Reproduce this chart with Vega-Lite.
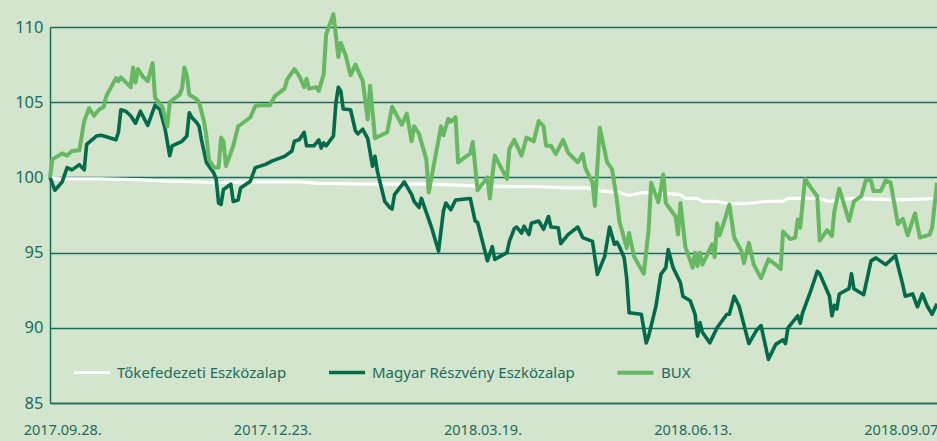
{
  "$schema": "https://vega.github.io/schema/vega-lite/v6.json",
  "width": 887,
  "height": 376,
  "autosize": "none",
  "padding": {"left": 50, "top": 27, "right": 0, "bottom": 38},
  "background": "#d3e5cc",
  "config": {
    "view": {"stroke": null, "fill": "#d3e5cc"},
    "font": "Noto Sans",
    "axis": {"labelColor": "#1d6b5b", "labelFont": "Noto Sans", "domainColor": "#1d6b5b", "gridColor": "#1d6b5b", "ticks": false, "title": null, "domainWidth": 1.5, "gridWidth": 1.5}
  },
  "data": {"values": [
    {"series":"Tőkefedezeti Eszközalap","date":"2017-09-23","value":100.0},
    {"series":"Tőkefedezeti Eszközalap","date":"2017-09-27","value":99.9},
    {"series":"Tőkefedezeti Eszközalap","date":"2017-10-13","value":99.9},
    {"series":"Tőkefedezeti Eszközalap","date":"2017-10-27","value":99.85},
    {"series":"Tőkefedezeti Eszközalap","date":"2017-11-10","value":99.75},
    {"series":"Tőkefedezeti Eszközalap","date":"2017-11-23","value":99.7},
    {"series":"Tőkefedezeti Eszközalap","date":"2017-11-30","value":99.65},
    {"series":"Tőkefedezeti Eszközalap","date":"2017-12-14","value":99.7},
    {"series":"Tőkefedezeti Eszközalap","date":"2018-01-03","value":99.7},
    {"series":"Tőkefedezeti Eszközalap","date":"2018-01-11","value":99.6},
    {"series":"Tőkefedezeti Eszközalap","date":"2018-01-31","value":99.55},
    {"series":"Tőkefedezeti Eszközalap","date":"2018-02-13","value":99.55},
    {"series":"Tőkefedezeti Eszközalap","date":"2018-02-27","value":99.55},
    {"series":"Tőkefedezeti Eszközalap","date":"2018-03-13","value":99.45},
    {"series":"Tőkefedezeti Eszközalap","date":"2018-03-26","value":99.4},
    {"series":"Tőkefedezeti Eszközalap","date":"2018-04-12","value":99.38},
    {"series":"Tőkefedezeti Eszközalap","date":"2018-04-22","value":99.3},
    {"series":"Tőkefedezeti Eszközalap","date":"2018-05-01","value":99.3},
    {"series":"Tőkefedezeti Eszközalap","date":"2018-05-03","value":99.25},
    {"series":"Tőkefedezeti Eszközalap","date":"2018-05-06","value":99.1},
    {"series":"Tőkefedezeti Eszközalap","date":"2018-05-14","value":99.0},
    {"series":"Tőkefedezeti Eszközalap","date":"2018-05-18","value":98.8},
    {"series":"Tőkefedezeti Eszközalap","date":"2018-05-22","value":98.95},
    {"series":"Tőkefedezeti Eszközalap","date":"2018-05-27","value":99.0},
    {"series":"Tőkefedezeti Eszközalap","date":"2018-06-01","value":98.95},
    {"series":"Tőkefedezeti Eszközalap","date":"2018-06-08","value":98.85},
    {"series":"Tőkefedezeti Eszközalap","date":"2018-06-10","value":98.6},
    {"series":"Tőkefedezeti Eszközalap","date":"2018-06-15","value":98.6},
    {"series":"Tőkefedezeti Eszközalap","date":"2018-06-17","value":98.4},
    {"series":"Tőkefedezeti Eszközalap","date":"2018-06-23","value":98.4},
    {"series":"Tőkefedezeti Eszközalap","date":"2018-06-28","value":98.25},
    {"series":"Tőkefedezeti Eszközalap","date":"2018-07-05","value":98.25},
    {"series":"Tőkefedezeti Eszközalap","date":"2018-07-13","value":98.4},
    {"series":"Tőkefedezeti Eszközalap","date":"2018-07-20","value":98.4},
    {"series":"Tőkefedezeti Eszközalap","date":"2018-07-22","value":98.6},
    {"series":"Tőkefedezeti Eszközalap","date":"2018-08-04","value":98.6},
    {"series":"Tőkefedezeti Eszközalap","date":"2018-08-08","value":98.4},
    {"series":"Tőkefedezeti Eszközalap","date":"2018-08-11","value":98.5},
    {"series":"Tőkefedezeti Eszközalap","date":"2018-08-18","value":98.6},
    {"series":"Tőkefedezeti Eszközalap","date":"2018-09-06","value":98.5},
    {"series":"Tőkefedezeti Eszközalap","date":"2018-09-21","value":98.6},

    {"series":"Magyar Részvény Eszközalap","date":"2017-09-23","value":100.0},
    {"series":"Magyar Részvény Eszközalap","date":"2017-09-25","value":99.15},
    {"series":"Magyar Részvény Eszközalap","date":"2017-09-28","value":99.7},
    {"series":"Magyar Részvény Eszközalap","date":"2017-09-30","value":100.65},
    {"series":"Magyar Részvény Eszközalap","date":"2017-10-02","value":100.5},
    {"series":"Magyar Részvény Eszközalap","date":"2017-10-05","value":100.85},
    {"series":"Magyar Részvény Eszközalap","date":"2017-10-07","value":100.5},
    {"series":"Magyar Részvény Eszközalap","date":"2017-10-08","value":102.2},
    {"series":"Magyar Részvény Eszközalap","date":"2017-10-12","value":102.75},
    {"series":"Magyar Részvény Eszközalap","date":"2017-10-14","value":102.8},
    {"series":"Magyar Részvény Eszközalap","date":"2017-10-20","value":102.5},
    {"series":"Magyar Részvény Eszközalap","date":"2017-10-21","value":103.0},
    {"series":"Magyar Részvény Eszközalap","date":"2017-10-22","value":104.5},
    {"series":"Magyar Részvény Eszközalap","date":"2017-10-24","value":104.4},
    {"series":"Magyar Részvény Eszközalap","date":"2017-10-26","value":104.1},
    {"series":"Magyar Részvény Eszközalap","date":"2017-10-28","value":103.6},
    {"series":"Magyar Részvény Eszközalap","date":"2017-10-30","value":104.4},
    {"series":"Magyar Részvény Eszközalap","date":"2017-11-02","value":103.45},
    {"series":"Magyar Részvény Eszközalap","date":"2017-11-05","value":104.8},
    {"series":"Magyar Részvény Eszközalap","date":"2017-11-07","value":104.5},
    {"series":"Magyar Részvény Eszközalap","date":"2017-11-09","value":103.3},
    {"series":"Magyar Részvény Eszközalap","date":"2017-11-11","value":101.45},
    {"series":"Magyar Részvény Eszközalap","date":"2017-11-12","value":102.1},
    {"series":"Magyar Részvény Eszközalap","date":"2017-11-16","value":102.4},
    {"series":"Magyar Részvény Eszközalap","date":"2017-11-18","value":102.75},
    {"series":"Magyar Részvény Eszközalap","date":"2017-11-19","value":104.3},
    {"series":"Magyar Részvény Eszközalap","date":"2017-11-20","value":104.0},
    {"series":"Magyar Részvény Eszközalap","date":"2017-11-22","value":103.65},
    {"series":"Magyar Részvény Eszközalap","date":"2017-11-23","value":103.4},
    {"series":"Magyar Részvény Eszközalap","date":"2017-11-24","value":102.5},
    {"series":"Magyar Részvény Eszközalap","date":"2017-11-26","value":101.0},
    {"series":"Magyar Részvény Eszközalap","date":"2017-11-29","value":100.3},
    {"series":"Magyar Részvény Eszközalap","date":"2017-11-30","value":99.9},
    {"series":"Magyar Részvény Eszközalap","date":"2017-12-01","value":98.3},
    {"series":"Magyar Részvény Eszközalap","date":"2017-12-02","value":98.2},
    {"series":"Magyar Részvény Eszközalap","date":"2017-12-03","value":99.2},
    {"series":"Magyar Részvény Eszközalap","date":"2017-12-06","value":99.55},
    {"series":"Magyar Részvény Eszközalap","date":"2017-12-07","value":98.4},
    {"series":"Magyar Részvény Eszközalap","date":"2017-12-09","value":98.5},
    {"series":"Magyar Részvény Eszközalap","date":"2017-12-10","value":99.3},
    {"series":"Magyar Részvény Eszközalap","date":"2017-12-14","value":99.75},
    {"series":"Magyar Részvény Eszközalap","date":"2017-12-16","value":100.65},
    {"series":"Magyar Részvény Eszközalap","date":"2017-12-20","value":100.85},
    {"series":"Magyar Részvény Eszközalap","date":"2017-12-23","value":101.1},
    {"series":"Magyar Részvény Eszközalap","date":"2017-12-28","value":101.4},
    {"series":"Magyar Részvény Eszközalap","date":"2017-12-31","value":101.75},
    {"series":"Magyar Részvény Eszközalap","date":"2018-01-01","value":102.4},
    {"series":"Magyar Részvény Eszközalap","date":"2018-01-03","value":102.5},
    {"series":"Magyar Részvény Eszközalap","date":"2018-01-05","value":103.0},
    {"series":"Magyar Részvény Eszközalap","date":"2018-01-06","value":102.1},
    {"series":"Magyar Részvény Eszközalap","date":"2018-01-09","value":102.1},
    {"series":"Magyar Részvény Eszközalap","date":"2018-01-11","value":102.5},
    {"series":"Magyar Részvény Eszközalap","date":"2018-01-12","value":101.95},
    {"series":"Magyar Részvény Eszközalap","date":"2018-01-13","value":102.3},
    {"series":"Magyar Részvény Eszközalap","date":"2018-01-14","value":102.1},
    {"series":"Magyar Részvény Eszközalap","date":"2018-01-17","value":102.75},
    {"series":"Magyar Részvény Eszközalap","date":"2018-01-18","value":104.95},
    {"series":"Magyar Részvény Eszközalap","date":"2018-01-19","value":106.0},
    {"series":"Magyar Részvény Eszközalap","date":"2018-01-20","value":105.75},
    {"series":"Magyar Részvény Eszközalap","date":"2018-01-21","value":104.55},
    {"series":"Magyar Részvény Eszközalap","date":"2018-01-24","value":104.5},
    {"series":"Magyar Részvény Eszközalap","date":"2018-01-26","value":103.1},
    {"series":"Magyar Részvény Eszközalap","date":"2018-01-27","value":102.9},
    {"series":"Magyar Részvény Eszközalap","date":"2018-01-29","value":103.2},
    {"series":"Magyar Részvény Eszközalap","date":"2018-01-31","value":102.6},
    {"series":"Magyar Részvény Eszközalap","date":"2018-02-02","value":100.75},
    {"series":"Magyar Részvény Eszközalap","date":"2018-02-03","value":101.4},
    {"series":"Magyar Részvény Eszközalap","date":"2018-02-04","value":100.4},
    {"series":"Magyar Részvény Eszközalap","date":"2018-02-07","value":98.4},
    {"series":"Magyar Részvény Eszközalap","date":"2018-02-09","value":98.0},
    {"series":"Magyar Részvény Eszközalap","date":"2018-02-10","value":97.9},
    {"series":"Magyar Részvény Eszközalap","date":"2018-02-11","value":98.85},
    {"series":"Magyar Részvény Eszközalap","date":"2018-02-15","value":99.7},
    {"series":"Magyar Részvény Eszközalap","date":"2018-02-18","value":98.85},
    {"series":"Magyar Részvény Eszközalap","date":"2018-02-19","value":98.4},
    {"series":"Magyar Részvény Eszközalap","date":"2018-02-21","value":98.0},
    {"series":"Magyar Részvény Eszközalap","date":"2018-02-22","value":98.6},
    {"series":"Magyar Részvény Eszközalap","date":"2018-02-26","value":96.75},
    {"series":"Magyar Részvény Eszközalap","date":"2018-03-01","value":95.1},
    {"series":"Magyar Részvény Eszközalap","date":"2018-03-03","value":97.75},
    {"series":"Magyar Részvény Eszközalap","date":"2018-03-04","value":98.3},
    {"series":"Magyar Részvény Eszközalap","date":"2018-03-06","value":97.85},
    {"series":"Magyar Részvény Eszközalap","date":"2018-03-08","value":98.5},
    {"series":"Magyar Részvény Eszközalap","date":"2018-03-14","value":98.6},
    {"series":"Magyar Részvény Eszközalap","date":"2018-03-16","value":97.1},
    {"series":"Magyar Részvény Eszközalap","date":"2018-03-17","value":97.0},
    {"series":"Magyar Részvény Eszközalap","date":"2018-03-21","value":94.45},
    {"series":"Magyar Részvény Eszközalap","date":"2018-03-23","value":95.4},
    {"series":"Magyar Részvény Eszközalap","date":"2018-03-24","value":94.55},
    {"series":"Magyar Részvény Eszközalap","date":"2018-03-29","value":95.0},
    {"series":"Magyar Részvény Eszközalap","date":"2018-03-30","value":95.75},
    {"series":"Magyar Részvény Eszközalap","date":"2018-04-01","value":96.6},
    {"series":"Magyar Részvény Eszközalap","date":"2018-04-02","value":96.7},
    {"series":"Magyar Részvény Eszközalap","date":"2018-04-04","value":96.3},
    {"series":"Magyar Részvény Eszközalap","date":"2018-04-05","value":96.75},
    {"series":"Magyar Részvény Eszközalap","date":"2018-04-07","value":96.2},
    {"series":"Magyar Részvény Eszközalap","date":"2018-04-08","value":96.95},
    {"series":"Magyar Részvény Eszközalap","date":"2018-04-11","value":97.1},
    {"series":"Magyar Részvény Eszközalap","date":"2018-04-13","value":96.55},
    {"series":"Magyar Részvény Eszközalap","date":"2018-04-15","value":97.4},
    {"series":"Magyar Részvény Eszközalap","date":"2018-04-16","value":96.7},
    {"series":"Magyar Részvény Eszközalap","date":"2018-04-19","value":96.65},
    {"series":"Magyar Részvény Eszközalap","date":"2018-04-20","value":95.6},
    {"series":"Magyar Részvény Eszközalap","date":"2018-04-23","value":96.2},
    {"series":"Magyar Részvény Eszközalap","date":"2018-04-27","value":96.7},
    {"series":"Magyar Részvény Eszközalap","date":"2018-04-29","value":96.0},
    {"series":"Magyar Részvény Eszközalap","date":"2018-05-03","value":95.75},
    {"series":"Magyar Részvény Eszközalap","date":"2018-05-05","value":93.55},
    {"series":"Magyar Részvény Eszközalap","date":"2018-05-08","value":94.75},
    {"series":"Magyar Részvény Eszközalap","date":"2018-05-10","value":96.7},
    {"series":"Magyar Részvény Eszközalap","date":"2018-05-12","value":95.55},
    {"series":"Magyar Részvény Eszközalap","date":"2018-05-13","value":95.7},
    {"series":"Magyar Részvény Eszközalap","date":"2018-05-14","value":95.4},
    {"series":"Magyar Részvény Eszközalap","date":"2018-05-16","value":94.65},
    {"series":"Magyar Részvény Eszközalap","date":"2018-05-17","value":93.3},
    {"series":"Magyar Részvény Eszközalap","date":"2018-05-18","value":91.0},
    {"series":"Magyar Részvény Eszközalap","date":"2018-05-23","value":90.9},
    {"series":"Magyar Részvény Eszközalap","date":"2018-05-25","value":89.0},
    {"series":"Magyar Részvény Eszközalap","date":"2018-05-26","value":89.45},
    {"series":"Magyar Részvény Eszközalap","date":"2018-05-29","value":91.45},
    {"series":"Magyar Részvény Eszközalap","date":"2018-05-31","value":93.55},
    {"series":"Magyar Részvény Eszközalap","date":"2018-06-02","value":94.0},
    {"series":"Magyar Részvény Eszközalap","date":"2018-06-03","value":95.2},
    {"series":"Magyar Részvény Eszközalap","date":"2018-06-05","value":94.0},
    {"series":"Magyar Részvény Eszközalap","date":"2018-06-08","value":93.0},
    {"series":"Magyar Részvény Eszközalap","date":"2018-06-09","value":92.1},
    {"series":"Magyar Részvény Eszközalap","date":"2018-06-12","value":91.8},
    {"series":"Magyar Részvény Eszközalap","date":"2018-06-14","value":90.9},
    {"series":"Magyar Részvény Eszközalap","date":"2018-06-15","value":89.45},
    {"series":"Magyar Részvény Eszközalap","date":"2018-06-16","value":90.35},
    {"series":"Magyar Részvény Eszközalap","date":"2018-06-17","value":89.7},
    {"series":"Magyar Részvény Eszközalap","date":"2018-06-20","value":89.0},
    {"series":"Magyar Részvény Eszközalap","date":"2018-06-23","value":90.0},
    {"series":"Magyar Részvény Eszközalap","date":"2018-06-27","value":90.9},
    {"series":"Magyar Részvény Eszközalap","date":"2018-06-28","value":90.9},
    {"series":"Magyar Részvény Eszközalap","date":"2018-06-30","value":92.1},
    {"series":"Magyar Részvény Eszközalap","date":"2018-07-02","value":91.45},
    {"series":"Magyar Részvény Eszközalap","date":"2018-07-06","value":88.95},
    {"series":"Magyar Részvény Eszközalap","date":"2018-07-09","value":89.8},
    {"series":"Magyar Részvény Eszközalap","date":"2018-07-11","value":90.15},
    {"series":"Magyar Részvény Eszközalap","date":"2018-07-14","value":87.9},
    {"series":"Magyar Részvény Eszközalap","date":"2018-07-17","value":88.9},
    {"series":"Magyar Részvény Eszközalap","date":"2018-07-20","value":89.2},
    {"series":"Magyar Részvény Eszközalap","date":"2018-07-21","value":88.95},
    {"series":"Magyar Részvény Eszközalap","date":"2018-07-22","value":90.0},
    {"series":"Magyar Részvény Eszközalap","date":"2018-07-26","value":90.8},
    {"series":"Magyar Részvény Eszközalap","date":"2018-07-27","value":90.3},
    {"series":"Magyar Részvény Eszközalap","date":"2018-07-28","value":91.0},
    {"series":"Magyar Részvény Eszközalap","date":"2018-07-31","value":92.3},
    {"series":"Magyar Részvény Eszközalap","date":"2018-08-03","value":93.75},
    {"series":"Magyar Részvény Eszközalap","date":"2018-08-04","value":93.6},
    {"series":"Magyar Részvény Eszközalap","date":"2018-08-08","value":92.1},
    {"series":"Magyar Részvény Eszközalap","date":"2018-08-09","value":90.8},
    {"series":"Magyar Részvény Eszközalap","date":"2018-08-10","value":91.5},
    {"series":"Magyar Részvény Eszközalap","date":"2018-08-11","value":91.25},
    {"series":"Magyar Részvény Eszközalap","date":"2018-08-12","value":92.25},
    {"series":"Magyar Részvény Eszközalap","date":"2018-08-16","value":92.6},
    {"series":"Magyar Részvény Eszközalap","date":"2018-08-17","value":93.6},
    {"series":"Magyar Részvény Eszközalap","date":"2018-08-18","value":92.6},
    {"series":"Magyar Részvény Eszközalap","date":"2018-08-22","value":92.2},
    {"series":"Magyar Részvény Eszközalap","date":"2018-08-25","value":94.45},
    {"series":"Magyar Részvény Eszközalap","date":"2018-08-27","value":94.65},
    {"series":"Magyar Részvény Eszközalap","date":"2018-08-31","value":94.2},
    {"series":"Magyar Részvény Eszközalap","date":"2018-09-04","value":94.8},
    {"series":"Magyar Részvény Eszközalap","date":"2018-09-07","value":92.85},
    {"series":"Magyar Részvény Eszközalap","date":"2018-09-08","value":92.1},
    {"series":"Magyar Részvény Eszközalap","date":"2018-09-11","value":92.25},
    {"series":"Magyar Részvény Eszközalap","date":"2018-09-13","value":91.4},
    {"series":"Magyar Részvény Eszközalap","date":"2018-09-15","value":92.25},
    {"series":"Magyar Részvény Eszközalap","date":"2018-09-17","value":91.45},
    {"series":"Magyar Részvény Eszközalap","date":"2018-09-19","value":90.9},
    {"series":"Magyar Részvény Eszközalap","date":"2018-09-21","value":91.6},

    {"series":"BUX","date":"2017-09-23","value":100.0},
    {"series":"BUX","date":"2017-09-24","value":101.2},
    {"series":"BUX","date":"2017-09-28","value":101.6},
    {"series":"BUX","date":"2017-09-30","value":101.45},
    {"series":"BUX","date":"2017-10-02","value":101.75},
    {"series":"BUX","date":"2017-10-05","value":101.8},
    {"series":"BUX","date":"2017-10-07","value":103.75},
    {"series":"BUX","date":"2017-10-09","value":104.6},
    {"series":"BUX","date":"2017-10-11","value":104.1},
    {"series":"BUX","date":"2017-10-13","value":104.5},
    {"series":"BUX","date":"2017-10-15","value":104.7},
    {"series":"BUX","date":"2017-10-16","value":105.4},
    {"series":"BUX","date":"2017-10-20","value":106.6},
    {"series":"BUX","date":"2017-10-21","value":106.4},
    {"series":"BUX","date":"2017-10-22","value":106.65},
    {"series":"BUX","date":"2017-10-26","value":106.0},
    {"series":"BUX","date":"2017-10-27","value":107.3},
    {"series":"BUX","date":"2017-10-28","value":106.3},
    {"series":"BUX","date":"2017-10-29","value":107.2},
    {"series":"BUX","date":"2017-10-31","value":106.7},
    {"series":"BUX","date":"2017-11-02","value":106.4},
    {"series":"BUX","date":"2017-11-04","value":107.6},
    {"series":"BUX","date":"2017-11-05","value":105.3},
    {"series":"BUX","date":"2017-11-07","value":104.9},
    {"series":"BUX","date":"2017-11-08","value":104.7},
    {"series":"BUX","date":"2017-11-10","value":103.4},
    {"series":"BUX","date":"2017-11-11","value":105.0},
    {"series":"BUX","date":"2017-11-15","value":105.5},
    {"series":"BUX","date":"2017-11-16","value":105.9},
    {"series":"BUX","date":"2017-11-17","value":107.3},
    {"series":"BUX","date":"2017-11-18","value":106.8},
    {"series":"BUX","date":"2017-11-19","value":105.5},
    {"series":"BUX","date":"2017-11-22","value":105.2},
    {"series":"BUX","date":"2017-11-23","value":105.0},
    {"series":"BUX","date":"2017-11-25","value":103.75},
    {"series":"BUX","date":"2017-11-26","value":102.75},
    {"series":"BUX","date":"2017-11-27","value":101.2},
    {"series":"BUX","date":"2017-11-29","value":100.65},
    {"series":"BUX","date":"2017-12-01","value":100.65},
    {"series":"BUX","date":"2017-12-02","value":102.65},
    {"series":"BUX","date":"2017-12-03","value":102.4},
    {"series":"BUX","date":"2017-12-04","value":100.75},
    {"series":"BUX","date":"2017-12-07","value":102.1},
    {"series":"BUX","date":"2017-12-09","value":103.4},
    {"series":"BUX","date":"2017-12-12","value":103.75},
    {"series":"BUX","date":"2017-12-14","value":104.0},
    {"series":"BUX","date":"2017-12-16","value":104.75},
    {"series":"BUX","date":"2017-12-18","value":104.8},
    {"series":"BUX","date":"2017-12-22","value":104.8},
    {"series":"BUX","date":"2017-12-24","value":105.4},
    {"series":"BUX","date":"2017-12-28","value":105.9},
    {"series":"BUX","date":"2017-12-29","value":106.5},
    {"series":"BUX","date":"2018-01-01","value":107.2},
    {"series":"BUX","date":"2018-01-03","value":106.75},
    {"series":"BUX","date":"2018-01-05","value":106.0},
    {"series":"BUX","date":"2018-01-06","value":106.55},
    {"series":"BUX","date":"2018-01-07","value":105.9},
    {"series":"BUX","date":"2018-01-10","value":106.0},
    {"series":"BUX","date":"2018-01-11","value":105.75},
    {"series":"BUX","date":"2018-01-13","value":106.85},
    {"series":"BUX","date":"2018-01-14","value":109.5},
    {"series":"BUX","date":"2018-01-17","value":110.85},
    {"series":"BUX","date":"2018-01-19","value":108.0},
    {"series":"BUX","date":"2018-01-20","value":108.95},
    {"series":"BUX","date":"2018-01-22","value":108.1},
    {"series":"BUX","date":"2018-01-24","value":106.8},
    {"series":"BUX","date":"2018-01-26","value":107.5},
    {"series":"BUX","date":"2018-01-29","value":106.4},
    {"series":"BUX","date":"2018-01-31","value":103.85},
    {"series":"BUX","date":"2018-02-01","value":106.1},
    {"series":"BUX","date":"2018-02-03","value":102.6},
    {"series":"BUX","date":"2018-02-08","value":103.0},
    {"series":"BUX","date":"2018-02-10","value":104.7},
    {"series":"BUX","date":"2018-02-14","value":103.5},
    {"series":"BUX","date":"2018-02-16","value":104.25},
    {"series":"BUX","date":"2018-02-18","value":102.4},
    {"series":"BUX","date":"2018-02-19","value":103.4},
    {"series":"BUX","date":"2018-02-21","value":102.9},
    {"series":"BUX","date":"2018-02-24","value":101.2},
    {"series":"BUX","date":"2018-02-25","value":99.0},
    {"series":"BUX","date":"2018-03-02","value":103.4},
    {"series":"BUX","date":"2018-03-03","value":102.8},
    {"series":"BUX","date":"2018-03-05","value":103.9},
    {"series":"BUX","date":"2018-03-06","value":103.7},
    {"series":"BUX","date":"2018-03-08","value":104.0},
    {"series":"BUX","date":"2018-03-09","value":101.0},
    {"series":"BUX","date":"2018-03-14","value":101.6},
    {"series":"BUX","date":"2018-03-15","value":102.35},
    {"series":"BUX","date":"2018-03-17","value":99.15},
    {"series":"BUX","date":"2018-03-21","value":100.0},
    {"series":"BUX","date":"2018-03-22","value":98.6},
    {"series":"BUX","date":"2018-03-24","value":101.45},
    {"series":"BUX","date":"2018-03-29","value":99.9},
    {"series":"BUX","date":"2018-03-30","value":101.9},
    {"series":"BUX","date":"2018-04-01","value":102.5},
    {"series":"BUX","date":"2018-04-04","value":101.45},
    {"series":"BUX","date":"2018-04-06","value":102.65},
    {"series":"BUX","date":"2018-04-09","value":102.4},
    {"series":"BUX","date":"2018-04-11","value":103.75},
    {"series":"BUX","date":"2018-04-13","value":103.4},
    {"series":"BUX","date":"2018-04-14","value":102.1},
    {"series":"BUX","date":"2018-04-16","value":102.1},
    {"series":"BUX","date":"2018-04-18","value":101.55},
    {"series":"BUX","date":"2018-04-21","value":102.5},
    {"series":"BUX","date":"2018-04-23","value":101.65},
    {"series":"BUX","date":"2018-04-27","value":101.0},
    {"series":"BUX","date":"2018-04-29","value":101.55},
    {"series":"BUX","date":"2018-04-30","value":100.65},
    {"series":"BUX","date":"2018-05-03","value":99.65},
    {"series":"BUX","date":"2018-05-04","value":98.1},
    {"series":"BUX","date":"2018-05-06","value":103.3},
    {"series":"BUX","date":"2018-05-09","value":101.0},
    {"series":"BUX","date":"2018-05-11","value":100.55},
    {"series":"BUX","date":"2018-05-13","value":98.5},
    {"series":"BUX","date":"2018-05-14","value":97.1},
    {"series":"BUX","date":"2018-05-17","value":95.3},
    {"series":"BUX","date":"2018-05-18","value":96.3},
    {"series":"BUX","date":"2018-05-20","value":94.75},
    {"series":"BUX","date":"2018-05-24","value":93.6},
    {"series":"BUX","date":"2018-05-26","value":96.55},
    {"series":"BUX","date":"2018-05-27","value":99.65},
    {"series":"BUX","date":"2018-05-30","value":98.35},
    {"series":"BUX","date":"2018-06-01","value":100.2},
    {"series":"BUX","date":"2018-06-02","value":98.3},
    {"series":"BUX","date":"2018-06-06","value":97.4},
    {"series":"BUX","date":"2018-06-07","value":96.2},
    {"series":"BUX","date":"2018-06-08","value":98.3},
    {"series":"BUX","date":"2018-06-10","value":95.4},
    {"series":"BUX","date":"2018-06-13","value":94.0},
    {"series":"BUX","date":"2018-06-14","value":95.0},
    {"series":"BUX","date":"2018-06-15","value":94.1},
    {"series":"BUX","date":"2018-06-16","value":95.0},
    {"series":"BUX","date":"2018-06-17","value":94.2},
    {"series":"BUX","date":"2018-06-21","value":95.55},
    {"series":"BUX","date":"2018-06-22","value":94.7},
    {"series":"BUX","date":"2018-06-23","value":96.95},
    {"series":"BUX","date":"2018-06-24","value":96.15},
    {"series":"BUX","date":"2018-06-26","value":97.1},
    {"series":"BUX","date":"2018-06-28","value":98.2},
    {"series":"BUX","date":"2018-06-30","value":96.0},
    {"series":"BUX","date":"2018-07-03","value":95.1},
    {"series":"BUX","date":"2018-07-04","value":94.3},
    {"series":"BUX","date":"2018-07-06","value":95.65},
    {"series":"BUX","date":"2018-07-08","value":94.2},
    {"series":"BUX","date":"2018-07-11","value":93.3},
    {"series":"BUX","date":"2018-07-14","value":94.55},
    {"series":"BUX","date":"2018-07-17","value":94.2},
    {"series":"BUX","date":"2018-07-19","value":93.9},
    {"series":"BUX","date":"2018-07-20","value":96.4},
    {"series":"BUX","date":"2018-07-23","value":95.9},
    {"series":"BUX","date":"2018-07-25","value":96.0},
    {"series":"BUX","date":"2018-07-26","value":97.2},
    {"series":"BUX","date":"2018-07-27","value":96.65},
    {"series":"BUX","date":"2018-07-29","value":99.9},
    {"series":"BUX","date":"2018-07-31","value":99.4},
    {"series":"BUX","date":"2018-08-03","value":98.75},
    {"series":"BUX","date":"2018-08-04","value":95.8},
    {"series":"BUX","date":"2018-08-07","value":96.5},
    {"series":"BUX","date":"2018-08-09","value":96.1},
    {"series":"BUX","date":"2018-08-10","value":97.75},
    {"series":"BUX","date":"2018-08-12","value":99.25},
    {"series":"BUX","date":"2018-08-16","value":97.1},
    {"series":"BUX","date":"2018-08-18","value":98.4},
    {"series":"BUX","date":"2018-08-21","value":98.75},
    {"series":"BUX","date":"2018-08-23","value":99.85},
    {"series":"BUX","date":"2018-08-25","value":99.8},
    {"series":"BUX","date":"2018-08-26","value":99.1},
    {"series":"BUX","date":"2018-08-29","value":99.1},
    {"series":"BUX","date":"2018-08-31","value":99.8},
    {"series":"BUX","date":"2018-09-02","value":99.65},
    {"series":"BUX","date":"2018-09-05","value":96.9},
    {"series":"BUX","date":"2018-09-07","value":97.25},
    {"series":"BUX","date":"2018-09-09","value":96.15},
    {"series":"BUX","date":"2018-09-12","value":97.6},
    {"series":"BUX","date":"2018-09-14","value":96.0},
    {"series":"BUX","date":"2018-09-18","value":96.2},
    {"series":"BUX","date":"2018-09-19","value":96.65},
    {"series":"BUX","date":"2018-09-21","value":99.65}
  ]},
  "mark": {"type": "line", "strokeJoin": "round", "clip": false},
  "encoding": {
    "x": {
      "field": "date", "type": "temporal",
      "scale": {"type": "utc", "domain": [{"year": 2017, "month": 9, "date": 23, "utc": true}, {"year": 2018, "month": 9, "date": 21, "utc": true}]},
      "axis": {
        "values": [
          {"year": 2017, "month": 9, "date": 28, "utc": true},
          {"year": 2017, "month": 12, "date": 23, "utc": true},
          {"year": 2018, "month": 3, "date": 19, "utc": true},
          {"year": 2018, "month": 6, "date": 13, "utc": true},
          {"year": 2018, "month": 9, "date": 7, "utc": true}
        ],
        "labelExpr": "utcFormat(datum.value, '%Y.%m.%d.')",
        "labelFontSize": 14.5, "labelPadding": 20, "labelFlush": false, "labelOverlap": false, "grid": false
      }
    },
    "y": {
      "field": "value", "type": "quantitative",
      "scale": {"domain": [85, 110], "nice": false, "zero": false},
      "axis": {"values": [85, 90, 95, 100, 105, 110], "labelFontSize": 16.5, "labelPadding": 7, "grid": true}
    },
    "color": {
      "field": "series", "type": "nominal",
      "scale": {"domain": ["Tőkefedezeti Eszközalap", "Magyar Részvény Eszközalap", "BUX"], "range": ["#ffffff", "#006b4a", "#66b862"]},
      "legend": {
        "orient": "none", "legendX": 22, "legendY": 325, "direction": "horizontal", "title": null,
        "symbolType": "stroke", "symbolSize": 1300, "symbolStrokeWidth": 4.5,
        "labelFontSize": 15, "labelFont": "Noto Sans", "labelColor": "#1d6b5b", "labelLimit": 400,
        "columnPadding": 34, "labelOffset": 5
      }
    },
    "strokeWidth": {
      "field": "series", "type": "nominal",
      "scale": {"domain": ["Tőkefedezeti Eszközalap", "Magyar Részvény Eszközalap", "BUX"], "range": [3.2, 4, 4]},
      "legend": null
    }
  }
}
